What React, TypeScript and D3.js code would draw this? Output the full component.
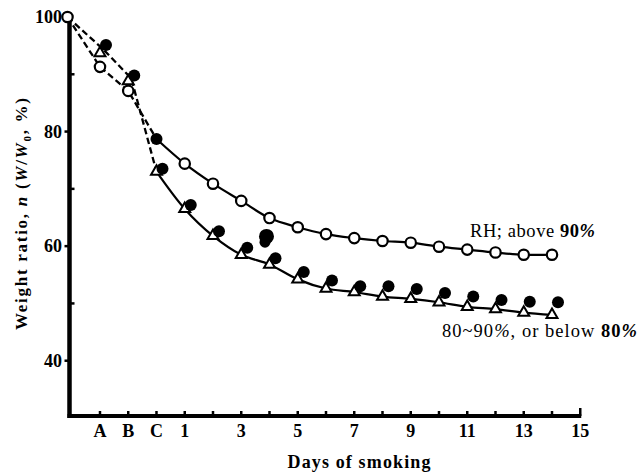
import React from 'react';
import * as d3 from 'd3';

const W = 640;
const H = 476;

// x positions: start (on the axis), stages A, B, C (= -2, -1, 0), then days 1..14
const days = [-3.15, -2, -1, 0, 1, 2, 3, 4, 5, 6, 7, 8, 9, 10, 11, 12, 13, 14];
// RH above 90% (open circles; the C point is drawn filled)
const aboveRH90 = [100, 91.3, 87.1, 78.7, 74.4, 70.9, 67.9, 64.9, 63.3, 62.1, 61.4, 60.9, 60.6, 59.9, 59.4, 58.9, 58.5, 58.5];
// 80~90% (open triangles)
const rh80to90 = [100, 93.7, 88.8, 73.0, 66.5, 61.8, 58.5, 56.8, 54.2, 52.6, 52.0, 51.2, 50.8, 50.2, 49.4, 49.0, 48.4, 48.0];
// below 80% (filled circles)
const below80Days = [-2, -1, 0, 1, 2, 3, 4, 5, 6, 7, 8, 9, 10, 11, 12, 13, 14];
const below80 = [95.1, 89.8, 73.5, 67.2, 62.6, 59.7, 57.9, 55.5, 54.0, 53.0, 53.0, 52.5, 51.8, 51.2, 50.6, 50.3, 50.2];
// stray heavy dot near day 4
const strayDay = 4;
const strayValues = [61.7, 60.7];

const xTickValues = [-2, -1, 0, 1, 2, 3, 4, 5, 6, 7, 8, 9, 10, 11, 12, 13, 14, 15];
const xTickLabels = ['A', 'B', 'C', '1', '', '3', '', '5', '', '7', '', '9', '', '11', '', '13', '', '15'];
const yTickValues = [100, 90, 80, 70, 60, 50, 40];
const yTickLabels = ['100', '', '80', '', '60', '', '40'];

const SERIF = '"Liberation Serif", "DejaVu Serif", serif';

export default function App() {
  const x = d3.scaleLinear().domain([-3.15, 15]).range([67.5, 580.25]);
  const y = d3.scaleLinear().domain([30, 100]).range([418, 17]);

  const axisX = 69.5;
  const axisY = 416;
  const FILLED_DX = 6;

  const straight = d3.line<[number, number]>().x(d => d[0]).y(d => d[1]);
  const smooth = d3
    .line<[number, number]>()
    .x(d => d[0])
    .y(d => d[1])
    .curve(d3.curveCatmullRom.alpha(0.5));

  const abovePts: [number, number][] = days.map((d, i) => [x(d), y(aboveRH90[i])]);
  const triPts: [number, number][] = days.map((d, i) => [x(d), y(rh80to90[i])]);
  const filledPts: [number, number][] = below80Days.map((d, i) => [x(d) + FILLED_DX, y(below80[i])]);

  const upperDashed = abovePts.slice(0, 4);
  const upperSolid = abovePts.slice(3);
  // lower dashed line runs between triangles and filled circles before smoking
  const lowerDashed: [number, number][] = [
    triPts[0],
    [x(days[1]) + FILLED_DX / 2, y((rh80to90[1] + below80[0]) / 2)],
    [x(days[2]) + FILLED_DX / 2, y((rh80to90[2] + below80[1]) / 2)],
    triPts[3],
  ];
  const lowerSolid = triPts.slice(3);

  const tri = d3.symbol().type(d3.symbolTriangle).size(52)();

  return (
    <svg
      width={W}
      height={H}
      viewBox={`0 0 ${W} ${H}`}
      style={{ position: 'absolute', left: 0, top: 0, background: '#fff' }}
    >
      <rect x={0} y={0} width={W} height={H} fill="#fff" />
      {/* axes */}
      <line x1={axisX} y1={y(100)} x2={axisX} y2={axisY + 2} stroke="#000" strokeWidth={4.5} />
      <line x1={axisX - 2} y1={axisY} x2={x(15) + 1} y2={axisY} stroke="#000" strokeWidth={4} />
      <line x1={x(15)} y1={axisY} x2={x(15)} y2={axisY - 8} stroke="#000" strokeWidth={2.5} />
      {xTickValues.map((t, i) => (
        <g key={'xt' + i}>
          {t < 15 && (
            <line x1={x(t)} y1={axisY} x2={x(t)} y2={axisY - 5} stroke="#000" strokeWidth={2.5} />
          )}
          {xTickLabels[i] && (
            <text
              x={x(t)}
              y={437}
              textAnchor="middle"
              fontFamily={SERIF}
              fontWeight="bold"
              fontSize={18}
            >
              {xTickLabels[i]}
            </text>
          )}
        </g>
      ))}
      {yTickValues.map((t, i) => (
        <g key={'yt' + i}>
          {yTickLabels[i] ? (
            <line x1={axisX} y1={y(t)} x2={axisX - 5} y2={y(t)} stroke="#000" strokeWidth={2.5} />
          ) : (
            <line x1={axisX} y1={y(t)} x2={axisX + 5} y2={y(t)} stroke="#000" strokeWidth={2.5} />
          )}
          {yTickLabels[i] && (
            <text
              x={62}
              y={y(t) + 6}
              textAnchor="end"
              fontFamily={SERIF}
              fontWeight="bold"
              fontSize={18}
            >
              {yTickLabels[i]}
            </text>
          )}
        </g>
      ))}

      {/* axis titles */}
      <text
        transform={`translate(27,214) rotate(-90)`}
        textAnchor="middle"
        fontFamily={SERIF}
        fontWeight="bold"
        fontSize={17}
        textLength={232}
        lengthAdjust="spacing"
      >
        Weight ratio, <tspan fontStyle="italic">n</tspan> (<tspan fontStyle="italic">W</tspan>/<tspan fontStyle="italic">W</tspan>
        <tspan fontSize={11} dy={4}>0</tspan>
        <tspan dy={-4}>, %)</tspan>
      </text>
      <text
        x={359}
        y={468}
        textAnchor="middle"
        fontFamily={SERIF}
        fontWeight="bold"
        fontSize={18}
        textLength={143}
        lengthAdjust="spacing"
      >
        Days of smoking
      </text>

      {/* curves */}
      <path d={straight(upperDashed) || ''} fill="none" stroke="#000" strokeWidth={2.3} strokeDasharray="6.5,3.5" />
      <path d={straight(lowerDashed) || ''} fill="none" stroke="#000" strokeWidth={2.3} strokeDasharray="6.5,3.5" />
      <path d={smooth(upperSolid) || ''} fill="none" stroke="#000" strokeWidth={2.2} />
      <path d={smooth(lowerSolid) || ''} fill="none" stroke="#000" strokeWidth={2.2} />

      {/* markers */}
      {triPts.slice(1).map((p, i) => (
        <path
          key={'tr' + i}
          d={tri || ''}
          transform={`translate(${p[0]},${p[1]})`}
          fill="#fff"
          stroke="#000"
          strokeWidth={2}
        />
      ))}
      {abovePts.map((p, i) =>
        i === 3 ? (
          <circle key={'ab' + i} cx={p[0]} cy={p[1]} r={6} fill="#000" />
        ) : (
          <circle key={'ab' + i} cx={p[0]} cy={p[1]} r={5.2} fill="#fff" stroke="#000" strokeWidth={2.2} />
        )
      )}
      {filledPts.map((p, i) => (
        <circle key={'fl' + i} cx={p[0]} cy={p[1]} r={6} fill="#000" />
      ))}
      {strayValues.map((v, i) => (
        <circle key={'st' + i} cx={x(strayDay) - 3 - 1.5 * i} cy={y(v)} r={i === 0 ? 7.5 : 5.5} fill="#000" />
      ))}

      {/* labels */}
      <text x={470} y={237} fontFamily={SERIF} fontSize={18.5} textLength={125} lengthAdjust="spacing">
        RH; above <tspan fontWeight="bold">90<tspan fontStyle="italic">%</tspan></tspan>
      </text>
      <text x={442} y={337} fontFamily={SERIF} fontSize={18.5} textLength={195} lengthAdjust="spacing">
        80~90<tspan fontStyle="italic">%</tspan>, or  below <tspan fontWeight="bold">80<tspan fontStyle="italic">%</tspan></tspan>
      </text>
    </svg>
  );
}
